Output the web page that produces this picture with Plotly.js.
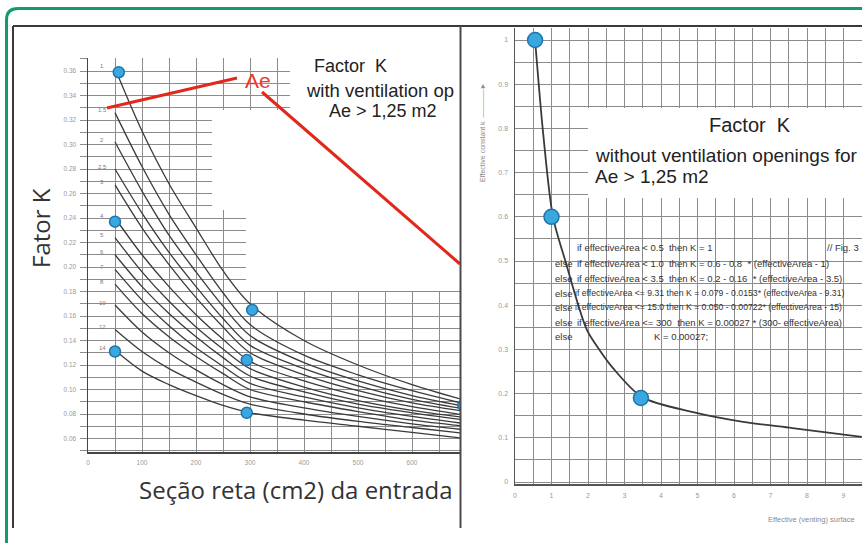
<!DOCTYPE html>
<html><head><meta charset="utf-8">
<script src="https://cdn.plot.ly/plotly-3.0.1.min.js"></script>
<style>html,body{margin:0;padding:0;background:#fff;overflow:hidden}#chart{width:862px;height:543px}</style>
</head><body><div id="chart"></div>
<script>
// ---------- LEFT CHART DATA (Factor K with ventilation openings) ----------
const areaCm2 = [50, 100, 150, 200, 250, 300, 400, 500, 600, 700];
const curveLabels = ['1', '1.5', '2', '2.5', '3', '4', '5', '6', '7', '8', '10', '12', '14'];
const kCurve1   = [0.362, 0.311, 0.268, 0.232, 0.197, 0.170, 0.140, 0.120, 0.104, 0.091];
const kCurve1_5 = [0.326, 0.282, 0.243, 0.210, 0.179, 0.153, 0.128, 0.112, 0.099, 0.088];
const kCurve2   = [0.302, 0.262, 0.226, 0.196, 0.168, 0.144, 0.122, 0.107, 0.095, 0.086];
const kCurve2_5 = [0.280, 0.244, 0.212, 0.184, 0.158, 0.136, 0.117, 0.103, 0.092, 0.084];
const kCurve3   = [0.267, 0.232, 0.202, 0.175, 0.151, 0.130, 0.112, 0.099, 0.089, 0.082];
const kCurve4   = [0.240, 0.210, 0.184, 0.161, 0.141, 0.123, 0.107, 0.095, 0.086, 0.079];
const kCurve5   = [0.224, 0.196, 0.172, 0.151, 0.133, 0.117, 0.102, 0.091, 0.083, 0.077];
const kCurve6   = [0.210, 0.184, 0.162, 0.143, 0.126, 0.111, 0.098, 0.088, 0.081, 0.075];
const kCurve7   = [0.198, 0.173, 0.152, 0.134, 0.119, 0.105, 0.094, 0.085, 0.078, 0.072];
const kCurve8   = [0.186, 0.162, 0.143, 0.127, 0.113, 0.100, 0.090, 0.082, 0.075, 0.070];
const kCurve10  = [0.169, 0.147, 0.130, 0.116, 0.104, 0.094, 0.085, 0.078, 0.072, 0.067];
const kCurve12  = [0.149, 0.131, 0.117, 0.106, 0.096, 0.088, 0.080, 0.074, 0.069, 0.064];
const kCurve14  = [0.132, 0.115, 0.104, 0.095, 0.087, 0.081, 0.075, 0.070, 0.065, 0.060];
const leftDotArea = [57, 50, 50, 304, 294, 294, 695];
const leftDotK    = [0.359, 0.237, 0.131, 0.165, 0.124, 0.081, 0.087];
const leftXTicks = [0, 100, 200, 300, 400, 500, 600];

// ---------- RIGHT CHART DATA (Factor K without ventilation openings) ----------
const effArea = [0.55, 0.77, 1.04, 1.38, 1.97, 2.33, 2.68, 3.48, 4.88, 6.25, 7.6, 9.5];
const effK    = [1.0, 0.79, 0.60, 0.50, 0.344, 0.297, 0.258, 0.192, 0.158, 0.136, 0.122, 0.102];
const rightDotArea = [0.55, 1.0, 3.45];
const rightDotK    = [1.0, 0.60, 0.19];

const codeElse = ['', 'else', 'else', 'else', 'else', 'else', 'else'];
const codeBody = [
  'if effectiveArea < 0.5  then K = 1',
  'if effectiveArea < 1.0  then K = 0.6 - 0.8  * (effectiveArea - 1)',
  'if effectiveArea < 3.5  then K = 0.2 - 0.16  * (effectiveArea - 3.5)',
  'if effectiveArea <= 9.31 then K = 0.079 - 0.0153* (effectiveArea - 9.31)',
  'if effectiveArea <= 15.0 then K = 0.050 - 0.00722* (effectiveArea - 15)',
  'if effectiveArea <= 300  then K = 0.00027 * (300- effectiveArea)',
  'K = 0.00027;'
];
const codeSize = [9.5, 9.5, 9.5, 8.7, 8.7, 9.5, 9.5];

// ---------- helpers (layout geometry) ----------
const W = 862, H = 543;
const fx = p => p / W, fy = p => 1 - p / H;
const lx = p => (p - 88) / 0.54, ly = p => 0.36 - (p - 71) / 1225;   // left axes px->data
const rx = p => (p - 515) / 36.5, ry = p => (482 - p) / 442;          // right axes px->data

const curves = [kCurve1, kCurve1_5, kCurve2, kCurve2_5, kCurve3, kCurve4, kCurve5,
                kCurve6, kCurve7, kCurve8, kCurve10, kCurve12, kCurve14];

const traces = curves.map((k, i) => ({
  x: areaCm2, y: k, xaxis: 'x', yaxis: 'y', mode: 'lines', name: curveLabels[i],
  line: {color: '#3b3b3b', width: 1.3, shape: 'spline', smoothing: 0.9}, hoverinfo: 'skip'
}));
traces.push({
  x: leftDotArea, y: leftDotK, xaxis: 'x', yaxis: 'y', mode: 'markers',
  marker: {size: 11, color: '#3aa8df', line: {color: '#1f74aa', width: 1.5}}
});
traces.push({
  x: effArea, y: effK, xaxis: 'x2', yaxis: 'y2', mode: 'lines',
  line: {color: '#3a3a3a', width: 1.8, shape: 'spline', smoothing: 0.8}
});
traces.push({
  x: rightDotArea, y: rightDotK, xaxis: 'x2', yaxis: 'y2', mode: 'markers',
  marker: {size: 15, color: '#3aa8df', line: {color: '#1f74aa', width: 1.5}}
});

const gridC = '#8c8c8c';
const tickF = {family: 'Liberation Sans, Arial', size: 6.5, color: '#9a9a9a'};

const shapes = [];
// white masks (blank areas of the scanned grid)
[[290, 460, 56, 110], [212, 460, 110, 210], [246, 460, 210, 291]].forEach(r => shapes.push({
  type: 'rect', xref: 'x', yref: 'y', x0: lx(r[0]), x1: lx(r[1]), y0: ly(r[3]), y1: ly(r[2]),
  fillcolor: '#ffffff', line: {width: 0}, layer: 'between'
}));
shapes.push({type: 'rect', xref: 'x2', yref: 'y2', x0: rx(588), x1: rx(870), y0: ry(198), y1: ry(108),
  fillcolor: '#ffffff', line: {width: 0}, layer: 'between'});
// red lines
shapes.push({type: 'line', xref: 'paper', yref: 'paper', x0: fx(107), y0: fy(108), x1: fx(237), y1: fy(78),
  line: {color: '#e2271b', width: 3}, layer: 'above'});
shapes.push({type: 'line', xref: 'paper', yref: 'paper', x0: fx(262), y0: fy(92), x1: fx(460), y1: fy(264),
  line: {color: '#e2271b', width: 3}, layer: 'above'});
// frames
shapes.push({type: 'path', xref: 'paper', yref: 'paper',
  path: `M ${fx(6.5)} ${fy(545)} L ${fx(6.5)} ${fy(20)} Q ${fx(6.5)} ${fy(8.5)} ${fx(18)} ${fy(8.5)} L ${fx(870)} ${fy(8.5)}`,
  line: {color: '#159a6c', width: 3}, layer: 'above'});
shapes.push({type: 'line', xref: 'paper', yref: 'paper', x0: fx(13), y0: fy(26), x1: fx(870), y1: fy(26),
  line: {color: '#3a3a3a', width: 2}, layer: 'above'});
shapes.push({type: 'line', xref: 'paper', yref: 'paper', x0: fx(13), y0: fy(26), x1: fx(13), y1: fy(528),
  line: {color: '#3a3a3a', width: 2}, layer: 'above'});
shapes.push({type: 'line', xref: 'paper', yref: 'paper', x0: fx(460.5), y0: fy(26), x1: fx(460.5), y1: fy(528),
  line: {color: '#4a4a4a', width: 2}, layer: 'above'});

const annotations = [];
const A = (x, y, text, font, extra) => annotations.push(Object.assign(
  {xref: 'paper', yref: 'paper', x: fx(x), y: fy(y), text, showarrow: false, font,
   xanchor: 'left', yanchor: 'middle'}, extra || {}));
const arial = (s, c) => ({family: 'Liberation Sans, Arial', size: s, color: c || '#222'});
const open = (s) => ({family: 'Open Sans', size: s, color: '#333'});

A(40, 228, 'Fator K', open(24), {textangle: -90, xanchor: 'center'});
A(296, 489, 'Seção reta (cm2) da entrada', open(24), {xanchor: 'center'});
A(312, 66, 'Factor  K', arial(18));
A(304, 90, 'with ventilation op', arial(18.5));
A(327, 111, 'Ae &gt; 1,25 m2', arial(18));
A(243, 80, 'Ae', arial(21, '#e8392b'));
A(707, 125, 'Factor  K', arial(20));
A(593, 155, 'without ventilation openings for', arial(19));
A(593, 177, 'Ae &gt; 1,25 m2', arial(19));
A(766, 519, 'Effective (venting) surface', arial(7.5, '#8a8a8a'));
A(482, 133, 'Effective constant k  ————►', arial(7, '#8a8a8a'), {textangle: -90, xanchor: 'center'});
const codeY = [248, 263, 278, 293, 307, 322, 336];
codeBody.forEach((t, i) => {
  if (codeElse[i]) A(553, codeY[i], codeElse[i], arial(9.5, '#333'));
  A(i === 6 ? 652 : (codeSize[i] < 9 ? 573 : 575), codeY[i], t.replace(/</g, '&lt;'), arial(codeSize[i], '#333'));
});
A(825, 248, '// Fig. 3', arial(9.5, '#333'));
// curve labels
curves.forEach((k, i) => annotations.push({
  xref: 'x', yref: 'y', x: lx(102), y: k[0] + 0.002, text: curveLabels[i], showarrow: false,
  font: {family: 'Liberation Sans, Arial', size: 6, color: '#7a7a7a'}, xanchor: 'center', yanchor: 'middle'
}));

const layout = {
  width: W, height: H, margin: {l: 0, r: 0, t: 0, b: 0},
  paper_bgcolor: '#ffffff', plot_bgcolor: '#ffffff', showlegend: false,
  xaxis: {domain: [fx(88), fx(460)], range: [0, lx(460)], tickvals: leftXTicks,
    showgrid: true, gridcolor: gridC, gridwidth: 1, zeroline: false,
    minor: {dtick: 50, showgrid: true, gridcolor: gridC, gridwidth: 1},
    showline: true, linecolor: '#444', linewidth: 1.5, ticks: '', tickfont: tickF, ticklabelstandoff: 4},
  yaxis: {domain: [fy(452), fy(58)], range: [ly(452), ly(58)], dtick: 0.02, tick0: 0.06, tickformat: '.2f',
    showgrid: true, gridcolor: gridC, gridwidth: 1, zeroline: false,
    minor: {dtick: 0.01, showgrid: true, gridcolor: gridC, gridwidth: 1, ticks: 'outside', ticklen: 7, tickcolor: gridC},
    showline: true, linecolor: '#444', linewidth: 1.5, ticks: 'outside', ticklen: 7, tickcolor: gridC,
    tickfont: tickF, ticklabelstandoff: 2},
  xaxis2: {domain: [fx(515), 1], range: [0, rx(862)], dtick: 1, anchor: 'y2',
    showgrid: true, gridcolor: gridC, gridwidth: 1, zeroline: false,
    minor: {dtick: 0.5, showgrid: true, gridcolor: gridC, gridwidth: 1},
    showline: true, linecolor: '#555', linewidth: 1.5, ticks: '', tickfont: arial(7, '#9a9a9a'), ticklabelstandoff: 4},
  yaxis2: {domain: [fy(484), fy(28)], range: [ry(484), ry(28)], dtick: 0.1, anchor: 'x2',
    showgrid: true, gridcolor: gridC, gridwidth: 1, zeroline: false,
    minor: {dtick: 0.05, showgrid: true, gridcolor: gridC, gridwidth: 1},
    showline: true, linecolor: '#555', linewidth: 1.5, ticks: '', tickfont: arial(7, '#9a9a9a'), ticklabelstandoff: 4},
  shapes, annotations
};
Plotly.newPlot('chart', traces, layout, {displayModeBar: false, staticPlot: true});
</script></body></html>
